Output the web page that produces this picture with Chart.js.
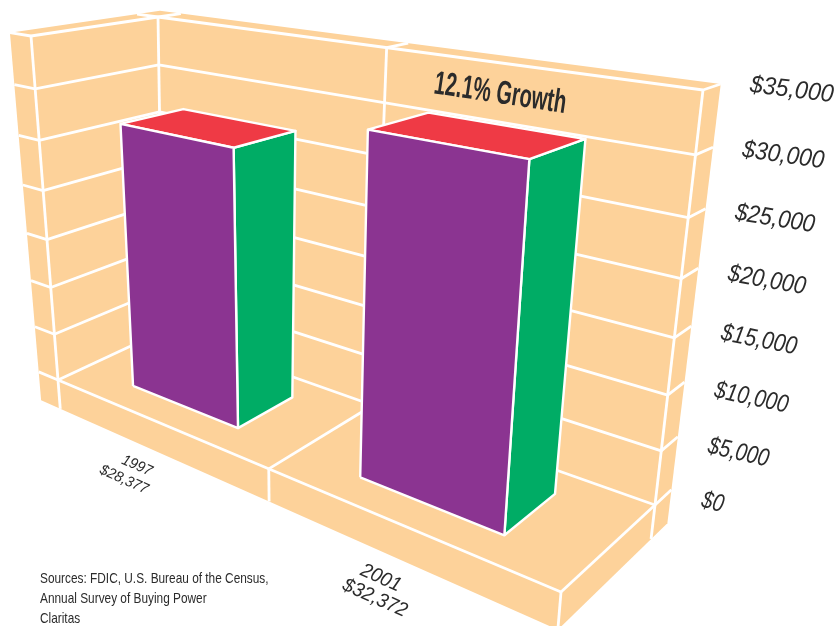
<!DOCTYPE html>
<html>
<head>
<meta charset="utf-8">
<style>
  html, body { margin: 0; padding: 0; background: #fff; }
  canvas { display: block; }
</style>
</head>
<body>
<canvas id="chart" width="838" height="626"></canvas>
<script src="https://cdn.jsdelivr.net/npm/chart.js@4/dist/chart.umd.min.js"></script>
<script>
var categories = ['1997', '2001'];
var categoryLabels = ['$28,377', '$32,372'];
var incomeValues = [28377, 32372];
var tickValues = [0, 5000, 10000, 15000, 20000, 25000, 30000, 35000];
var tickLabels = ['$0', '$5,000', '$10,000', '$15,000', '$20,000', '$25,000', '$30,000', '$35,000'];
var growthLabel = '12.1% Growth';
var sourceLines = ['Sources: FDIC, U.S. Bureau of the Census,', 'Annual Survey of Buying Power', 'Claritas'];

var yMax = 35000;
var WALL = '#FDD29A', PURPLE = '#8B3491', GREEN = '#00AC65', RED = '#EF3A45';
var INK = '#2b2b2b';
var SANS = '"Liberation Sans", sans-serif';

// the box the bars stand in, seen from the front right: image of each unit cube corner
var corners = {
  '000': [163, 331], '100': [655, 505], '010': [158, 17], '110': [703, 90],
  '001': [58, 380], '101': [561, 592], '011': [31, 36], '111': [600, 125]
};
var wallX = 0.054, floorY = 0.092, wallZ = 0.2; // slab thickness
var barRise = 0.95, barWidth = 0.25, barFront = 0.75, barBack = 0.23;

function weight(a, b, c) {
  return 1 - 0.2565 * a - 0.0747 * b - 0.08 * c;
}

// cube position -> canvas position, perspective divide included
function project(x, y, z) {
  var sx = 0, sy = 0, sw = 0;
  [0, 1].forEach(function (a) {
    [0, 1].forEach(function (b) {
      [0, 1].forEach(function (c) {
        var t = (a ? x : 1 - x) * (b ? y : 1 - y) * (c ? z : 1 - z) * weight(a, b, c);
        var p = corners['' + a + b + c];
        sx += t * p[0];
        sy += t * p[1];
        sw += t;
      });
    });
  });
  return { x: sx / sw, y: sy / sw };
}

var datasets = [];

function addFace(points, color, border) {
  datasets.push({
    data: points.concat([points[0]]).map(function (p) { return project(p[0], p[1], p[2]); }),
    showLine: true,
    fill: 'shape',
    backgroundColor: color,
    borderColor: border ? '#fff' : color,
    borderWidth: border ? 2.4 : 0,
    borderJoinStyle: 'round',
    pointRadius: 0,
    tension: 0
  });
}

function addLine(a, b) {
  datasets.push({
    data: [project(a[0], a[1], a[2]), project(b[0], b[1], b[2])],
    showLine: true,
    fill: false,
    borderColor: '#fff',
    borderWidth: 2.8,
    pointRadius: 0,
    tension: 0
  });
}

// slab outline
addFace([
  [-wallX, 1, 1], [-wallX, 1, -wallZ], [1, 1, -wallZ], [1, -floorY, -wallZ],
  [1, -floorY, 1], [-wallX, -floorY, 1]
], WALL, false);

// grid on back wall and left wall, with the end caps
tickValues.forEach(function (v) {
  var y = v / yMax;
  addLine([0, y, 0], [1, y, 0]);
  addLine([1, y, 0], [1, y, -wallZ]);
  addLine([0, y, 0], [0, y, 1]);
  addLine([0, y, 1], [-wallX, y, 1]);
});

// uprights and floor
addLine([0, 0, 0], [0, 1, 0]);
addLine([0.5, 0, 0], [0.5, 1, 0]);
addLine([1, -floorY, 0], [1, 1, 0]);
addLine([0, -floorY, 1], [0, 1, 1]);
addLine([0.5, 0, 0], [0.5, 0, 1]);
addLine([0.5, 0, 1], [0.5, -floorY, 1]);
addLine([1, 0, 0], [1, 0, 1]);
addLine([1, 0, 1], [1, -floorY, 1]);
addLine([0, 0, 1], [1, 0, 1]);
addLine([0, 1, 0], [-wallX, 1, 0]);
addLine([0, 1, 0], [0, 1, -wallZ]);
addLine([0.5, 1, 0], [0.5, 1, -wallZ]);

// bars
incomeValues.forEach(function (v, i) {
  var mid = (i + 0.5) / categories.length;
  var x0 = mid - barWidth / 2, x1 = mid + barWidth / 2;
  var top = v / yMax * barRise;
  addFace([[x1, 0, barFront], [x1, 0, barBack], [x1, top, barBack], [x1, top, barFront]], GREEN, true);
  addFace([[x0, top, barFront], [x1, top, barFront], [x1, top, barBack], [x0, top, barBack]], RED, true);
  addFace([[x0, 0, barFront], [x1, 0, barFront], [x1, top, barFront], [x0, top, barFront]], PURPLE, true);
});

// chart.js paints the first dataset last, so number them backwards
datasets.forEach(function (d, i) { d.order = datasets.length - i; });

function tiltedText(ctx, text, x, y, deg, font, stretch) {
  ctx.save();
  ctx.translate(x, y);
  ctx.rotate(deg * Math.PI / 180);
  ctx.scale(stretch || 1, 1);
  ctx.font = font;
  ctx.fillText(text, 0, 0);
  ctx.restore();
}

var labelsPlugin = {
  id: 'boxLabels',
  afterDraw: function (chart) {
    var ctx = chart.ctx;
    ctx.save();
    ctx.fillStyle = INK;
    ctx.textBaseline = 'middle';

    ctx.textAlign = 'left';
    tickValues.forEach(function (v, i) {
      var y = v / yMax;
      var p = project(1, y, 0);
      tiltedText(ctx, tickLabels[i], p.x + 47, p.y - 5, 14 - 7 * y, 'italic 25px ' + SANS, 0.79 + 0.14 * y);
    });

    var g = project(0.59, 0.925, 0);
    tiltedText(ctx, growthLabel, g.x, g.y, 8.6, 'bold 33px ' + SANS, 0.61);

    ctx.textAlign = 'center';
    categories.forEach(function (c, i) {
      var mid = (i + 0.5) / categories.length;
      var p = project(mid, -floorY, 1);
      var size = 15 + 5 * i;
      var font = 'italic ' + size + 'px ' + SANS;
      tiltedText(ctx, c, p.x - 20, p.y + 14 + 4 * i, 24, font, 0.95);
      tiltedText(ctx, categoryLabels[i], p.x - 33 + 7 * i, p.y + 28 + 10 * i, 24, font, 0.95);
    });

    ctx.textAlign = 'left';
    ctx.textBaseline = 'alphabetic';
    sourceLines.forEach(function (line, i) {
      tiltedText(ctx, line, 40, 583 + i * 20, 0, '15px ' + SANS, 0.79);
    });
    ctx.restore();
  }
};

new Chart(document.getElementById('chart').getContext('2d'), {
  type: 'scatter',
  data: { datasets: datasets },
  plugins: [labelsPlugin],
  options: {
    responsive: false,
    animation: false,
    layout: { padding: 0 },
    scales: {
      x: { type: 'linear', min: 0, max: 838, display: false },
      y: { type: 'linear', min: 0, max: 626, reverse: true, display: false }
    },
    plugins: {
      legend: { display: false },
      tooltip: { enabled: false }
    }
  }
});
</script>
</body>
</html>
